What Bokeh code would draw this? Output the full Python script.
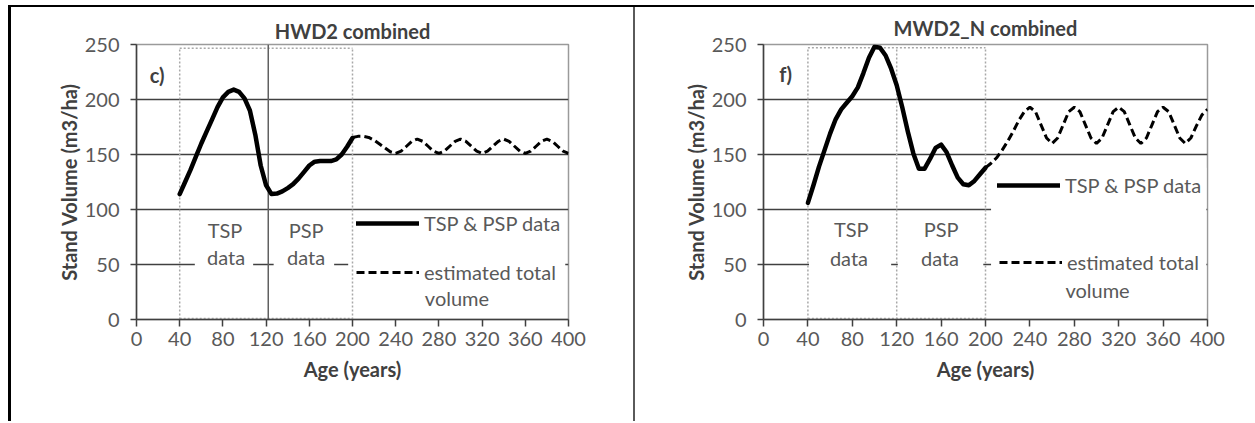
from bokeh.plotting import figure
from bokeh.models import Range1d, FixedTicker, Legend, LegendItem, Label, Div
from bokeh.layouts import row
from bokeh.embed import file_html
from bokeh.resources import INLINE
from bokeh.core.properties import value

FONT = "Lato"
TXT = "#595959"
DARK = "#404040"

# ---------------- data ----------------
x_ticks = [0, 40, 80, 120, 160, 200, 240, 280, 320, 360, 400]
y_ticks = [0, 50, 100, 150, 200, 250]
grid_levels = [50, 100, 150, 200]

legend_solid = "TSP & PSP data"
legend_dash = ["estimated total", "volume"]
region_top = ["TSP", "PSP"]
region_bottom = ["data", "data"]

# panel c) HWD2 combined
hwd_age = [40, 45, 50, 55, 60, 65, 70, 75, 80, 85, 90, 95, 100, 105, 110, 115, 120,
           125, 130, 135, 140, 145, 150, 155, 160, 165, 170, 175, 180, 185, 190, 195, 200]
hwd_vol = [114, 125, 136, 148, 160, 171, 182, 193, 202, 207, 209, 207, 201, 190, 168, 140, 122,
           114, 114.5, 116.5, 119.5, 123, 128, 134, 140, 143.5, 144, 144, 144, 145.5, 150, 157, 165]
hwd_est_age = [200, 205, 210, 215, 220, 225, 230, 235, 240, 245, 250, 255, 260, 265, 270, 275,
               280, 285, 290, 295, 300, 305, 310, 315, 320, 325, 330, 335, 340, 345, 350, 355,
               360, 365, 370, 375, 380, 385, 390, 395, 400]
hwd_est_vol = [165.5, 166.5, 166.5, 165.5, 163, 159.5, 156, 152.5, 151, 153, 157.5, 162, 164, 162,
               157.5, 153, 151, 153, 157.5, 162, 164, 162, 157.5, 153, 151, 153, 157.5, 162, 164,
               162, 157.5, 153, 151, 153, 157.5, 162, 164, 162, 157.5, 153, 151]

# panel f) MWD2_N combined
mwd_age = [40, 45, 50, 55, 60, 65, 70, 75, 80, 85, 90, 95, 100, 105, 110, 115, 120,
           125, 130, 135, 140, 145, 150, 155, 160, 165, 170, 175, 180, 185, 190, 195, 200]
mwd_vol = [106, 122, 139, 154, 169, 182, 191, 197, 203, 211, 224, 238, 248, 247, 240, 228, 213,
           193, 171, 151, 137, 137, 146, 156, 159, 152, 140, 129, 123, 122, 126, 132, 138]
mwd_est_age = [200, 205, 210, 215, 220, 225, 230, 235, 240, 245, 250, 255, 260, 265, 270, 275,
               280, 285, 290, 295, 300, 305, 310, 315, 320, 325, 330, 335, 340, 345, 350, 355,
               360, 365, 370, 375, 380, 385, 390, 395, 400]
mwd_est_vol = [138, 142, 147, 154, 162, 171, 181, 189, 193, 189, 177, 165, 160, 165, 177, 189,
               193, 189, 177, 165, 160, 165, 177, 189, 193, 189, 177, 165, 160, 165, 177, 189,
               193, 189, 177, 165, 160, 165, 176, 186, 191]


def style_axes(p, x_tick_out, x_std, x_lab_std, y_std, y_lab_std):
    p.xaxis.ticker = FixedTicker(ticks=x_ticks)
    p.yaxis.ticker = FixedTicker(ticks=y_ticks)
    for ax in (p.xaxis[0], p.yaxis[0]):
        ax.axis_line_color = DARK
        ax.axis_line_width = 1.5
        ax.major_tick_line_color = DARK
        ax.major_tick_line_width = 1.5
        ax.major_tick_in = 0
        ax.minor_tick_line_color = None
        ax.major_label_text_font = FONT
        ax.major_label_text_font_size = "20px"
        ax.major_label_text_color = TXT
        ax.axis_label_text_font = FONT
        ax.axis_label_text_font_size = "20px"
        ax.axis_label_text_font_style = "bold"
        ax.axis_label_text_color = DARK
    p.xaxis.major_tick_out = x_tick_out
    p.xaxis.major_label_standoff = x_std
    p.xaxis.axis_label_standoff = x_lab_std
    p.yaxis.major_tick_out = 6
    p.yaxis.major_label_standoff = y_std
    p.yaxis.axis_label_standoff = y_lab_std
    p.xgrid.visible = False
    p.ygrid.ticker = FixedTicker(ticks=grid_levels)
    p.ygrid.grid_line_color = DARK
    p.ygrid.grid_line_width = 1.3
    p.outline_line_color = "#9a9a9a"
    p.outline_line_width = 1.5


def style_legend(lg):
    lg.glyph_width = 63
    lg.glyph_height = 20
    lg.label_standoff = 5
    lg.padding = 0
    lg.margin = 0
    lg.spacing = 0
    lg.label_height = 20
    lg.border_line_color = None
    lg.background_fill_alpha = 0
    lg.label_text_font = FONT
    lg.label_text_font_size = "20px"
    lg.label_text_color = TXT


def make_chart(title, tag, age, vol, est_age, est_vol, width, height, bl, br, bt, frame_h,
               title_standoff, boxes, dotted_x, solid_x, top_dotted, region_pos,
               leg1_loc, leg2_loc, vol_pos, tag_pos):
    p = figure(width=width, height=height, output_backend="svg", toolbar_location=None,
               x_range=Range1d(0, 400), y_range=Range1d(0, 250),
               min_border_left=bl, min_border_right=br, min_border_top=bt,
               min_border_bottom=height - bt - frame_h,
               x_axis_label="Age (years)", y_axis_label="Stand Volume (m3/ha)")
    p.title.text = title
    p.title.align = "center"
    p.title.text_font = FONT
    p.title.text_font_size = "20px"
    p.title.text_font_style = "bold"
    p.title.text_color = DARK
    p.title.standoff = title_standoff
    style_axes(p, 7, 5, 8, 11, 1)

    # white boxes behind texts (they hide the grid lines)
    for (l, r, b, t) in boxes:
        p.quad(left=[l], right=[r], bottom=[b], top=[t], fill_color="white", line_color=None)

    # data region outlines
    p.segment(x0=dotted_x, y0=[0] * len(dotted_x), x1=dotted_x, y1=[top_dotted] * len(dotted_x),
              line_color="#a8a8a8", line_width=1.5, line_dash="2 2")
    p.segment(x0=[40, 40], y0=[top_dotted, 1], x1=[200, 200], y1=[top_dotted, 1],
              line_color="#a8a8a8", line_width=1.5, line_dash="2 2")
    if solid_x is not None:
        p.segment(x0=[solid_x], y0=[0], x1=[solid_x], y1=[250], line_color="#606060", line_width=1.5)

    # region labels
    (tx1, ty1, bx1, by1, tx2, ty2, bx2, by2) = region_pos
    p.text(x=[tx1, bx1, tx2, bx2], y=[ty1, by1, ty2, by2],
           text=[region_top[0], region_bottom[0], region_top[1], region_bottom[1]],
           text_font=value(FONT), text_font_size="20px", text_color=TXT,
           text_align="center", text_baseline="middle")

    r_est = p.line(est_age, est_vol, line_color="black", line_width=3, line_dash="8 4")
    r_obs = p.line(age, vol, line_color="black", line_width=4.5, line_join="round", line_cap="round")

    lg1 = Legend(items=[LegendItem(label=legend_solid, renderers=[r_obs])], location=leg1_loc)
    lg2 = Legend(items=[LegendItem(label=legend_dash[0], renderers=[r_est])], location=leg2_loc)
    style_legend(lg1)
    style_legend(lg2)
    p.add_layout(lg1)
    p.add_layout(lg2)
    p.add_layout(Label(x=vol_pos[0], y=vol_pos[1], text=legend_dash[1], text_font=FONT,
                       text_font_size="20px", text_color=TXT, text_align="left",
                       text_baseline="middle"))
    p.add_layout(Label(x=tag_pos[0], y=tag_pos[1], text=tag, text_font=FONT,
                       text_font_size="20px", text_font_style="bold", text_color=DARK,
                       text_align="center", text_baseline="middle"))
    return p


H = 414
p1 = make_chart("HWD2 combined", "c)", hwd_age, hwd_vol, hwd_est_age, hwd_est_vol,
                width=622, height=H, bl=125, br=65, bt=37, frame_h=289, title_standoff=4,
                boxes=[(54, 108, 30, 97), (127, 183, 30, 97), (196, 397, 5, 97)],
                dotted_x=[40, 200], solid_x=122, top_dotted=246.5,
                region_pos=(82, 81, 83, 57, 157, 81, 157, 57),
                leg1_loc=(220, 84), leg2_loc=(220, 35), vol_pos=(267, 20),
                tag_pos=(19, 222))

p2 = make_chart("MWD2_N combined", "f)", mwd_age, mwd_vol, mwd_est_age, mwd_est_vol,
                width=605, height=H, bl=128, br=33, bt=36, frame_h=276, title_standoff=10,
                boxes=[(41, 115, 30, 97), (121, 198, 30, 97), (205, 399, 5, 138)],
                dotted_x=[40, 120, 200], solid_x=None, top_dotted=247,
                region_pos=(79, 82, 77, 56, 160, 82, 159, 56),
                leg1_loc=(234, 122), leg2_loc=(236, 45), vol_pos=(272, 27),
                tag_pos=(20, 223))

left_rule = Div(text="", width=3, height=H, margin=0, styles={"background-color": "#000000"})
mid_rule = Div(text="", width=2, height=H, margin=0, styles={"background-color": "#5a5a5a"})
end_pad = Div(text="", width=14, height=H, margin=0)

layout = row(left_rule, p1, mid_rule, p2, end_pad, spacing=0, margin=(5, 0, 0, 8),
             styles={"border-top": "2px solid #000000"})

open("out.html", "w").write(file_html(layout, INLINE))
